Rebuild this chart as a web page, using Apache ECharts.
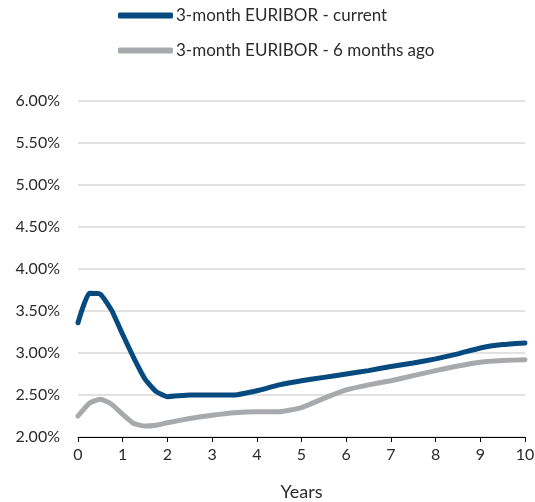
<!DOCTYPE html>
<html>
<head>
<meta charset="utf-8">
<script src="https://cdn.jsdelivr.net/npm/echarts@6/dist/echarts.min.js"></script>
<style>
  html, body { margin: 0; padding: 0; background: #fff; }
  #chart { width: 535px; height: 502px; }
</style>
</head>
<body>
<div id="chart"></div>
<script>
// Maturity in years
const years = [0, 0.25, 0.5, 0.75, 1, 1.25, 1.5, 1.75, 2, 2.5, 3, 3.5, 4, 4.5, 5, 5.5, 6, 6.5, 7, 7.5, 8, 8.5, 9, 9.5, 10];
// 3-month EURIBOR forward curve, percent
const currentCurve = [3.36, 3.71, 3.70, 3.51, 3.22, 2.94, 2.69, 2.54, 2.48, 2.50, 2.50, 2.50, 2.55, 2.62, 2.67, 2.71, 2.75, 2.79, 2.84, 2.88, 2.93, 2.99, 3.06, 3.10, 3.12];
const sixMonthsAgoCurve = [2.25, 2.40, 2.45, 2.39, 2.27, 2.16, 2.13, 2.14, 2.17, 2.22, 2.26, 2.29, 2.30, 2.30, 2.35, 2.46, 2.56, 2.62, 2.67, 2.73, 2.79, 2.845, 2.89, 2.91, 2.92];
const seriesNames = ['3-month EURIBOR - current', '3-month EURIBOR - 6 months ago'];
const xAxisTitle = 'Years';

const FONT = 'Lato';
const TEXT = '#2b2b2b';
const BLUE = '#064a7f';
const GREY = '#a7a9ac';

const pairs = vals => years.map((x, i) => [x, vals[i]]);

const legendBase = {
  left: 118,
  padding: 0,
  orient: 'vertical',
  icon: 'roundRect',
  itemWidth: 55,
  itemHeight: 6,
  selectedMode: false,
  textStyle: { fontFamily: FONT, fontSize: 17, color: TEXT, padding: [0, 0, 0, -2] }
};

const chart = echarts.init(document.getElementById('chart'), null, { renderer: 'canvas' });
chart.setOption({
  animation: false,
  backgroundColor: '#fff',
  legend: [
    Object.assign({}, legendBase, { top: 7, data: [seriesNames[0]] }),
    Object.assign({}, legendBase, { top: 42, data: [seriesNames[1]] })
  ],
  grid: { left: 78, right: 10, top: 101, bottom: 65, containLabel: false, outerBoundsMode: 'none' },
  xAxis: {
    type: 'value',
    min: 0,
    max: 10,
    interval: 1,
    name: xAxisTitle,
    nameLocation: 'middle',
    nameGap: 46,
    nameTextStyle: { fontFamily: FONT, fontSize: 18, color: TEXT },
    axisLine: { show: true, onZero: false, lineStyle: { color: '#000', width: 1 } },
    axisTick: { show: true, inside: false, length: 5, lineStyle: { color: '#000' } },
    axisLabel: { fontFamily: FONT, fontSize: 16, color: TEXT, margin: 10 },
    splitLine: { show: false }
  },
  yAxis: {
    type: 'value',
    min: 2,
    max: 6,
    interval: 0.5,
    axisLine: { show: false },
    axisTick: { show: false },
    axisLabel: {
      fontFamily: FONT, fontSize: 16, color: TEXT, margin: 18,
      formatter: v => v.toFixed(2) + '%'
    },
    splitLine: { show: true, lineStyle: { color: '#d9d9d9', width: 1.5 } }
  },
  series: [
    {
      name: seriesNames[1],
      type: 'line',
      data: pairs(sixMonthsAgoCurve),
      smooth: 0.15,
      symbol: 'none',
      itemStyle: { color: GREY },
      lineStyle: { color: GREY, width: 5, cap: 'round', join: 'round' },
      z: 2
    },
    {
      name: seriesNames[0],
      type: 'line',
      data: pairs(currentCurve),
      smooth: 0.15,
      symbol: 'none',
      itemStyle: { color: BLUE },
      lineStyle: { color: BLUE, width: 5, cap: 'round', join: 'round' },
      z: 3
    }
  ]
});
</script>
</body>
</html>
